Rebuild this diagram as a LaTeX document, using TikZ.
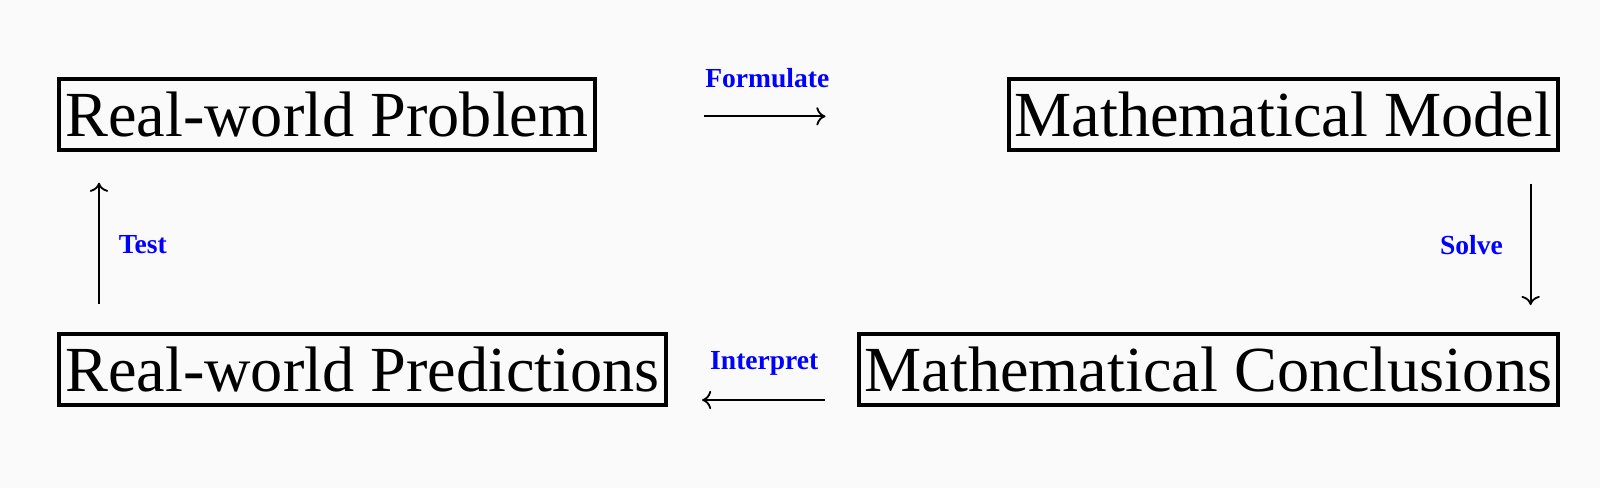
\documentclass[tikz,border=0pt]{standalone}
\usepackage{fontspec}
\setmainfont{Liberation Serif}
\usetikzlibrary{arrows.meta}
\definecolor{bg}{RGB}{250,250,250}
\begin{document}
\begin{tikzpicture}[x=0.5pt,y=-0.5pt,
  stagebox/.style={draw=black,line width=2pt,inner xsep=3pt,inner ysep=0pt,
    minimum height=35pt,font=\fontsize{31.5}{36}\selectfont},
  steplabel/.style={text=blue,font=\fontsize{13.5}{16}\selectfont\bfseries,inner sep=0pt},
  flow/.style={line width=0.9pt,-{To[length=4.5pt,width=9pt]}}]
\fill[bg] (0,0) rectangle (1568,478.2);
\useasboundingbox (0,0) rectangle (1568,478.2);
\node[stagebox,anchor=west] (rp) at (56,112) {Real-world Problem};
\node[stagebox,anchor=east] (mm) at (1529,112) {Mathematical Model};
\node[stagebox,anchor=west] (pred) at (56,362) {Real-world Predictions};
\node[stagebox,anchor=east] (mc) at (1529,362) {Mathematical Conclusions};
\coordinate (f1) at (690,114); \coordinate (f2) at (809,114);
\coordinate (s1) at (1500,180); \coordinate (s2) at (1500,299);
\coordinate (i1) at (808,392); \coordinate (i2) at (688,392);
\coordinate (t1) at (97,298); \coordinate (t2) at (97,179);
\draw[flow] (f1) -- (f2);
\draw[flow] (s1) -- (s2);
\draw[flow] (i1) -- (i2);
\draw[flow] (t1) -- (t2);
\node[steplabel] (lf) at (752,77) {Formulate};
\node[steplabel] (ls) at (1442,240) {Solve};
\node[steplabel] (li) at (749,356) {Interpret};
\node[steplabel] (lt) at (140,240) {Test};
\end{tikzpicture}
\end{document}
